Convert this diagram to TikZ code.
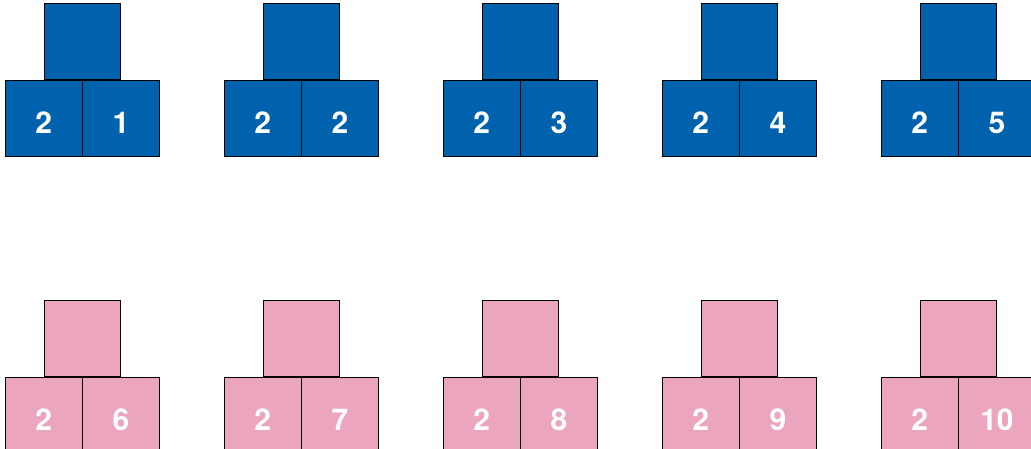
\documentclass[tikz,border=0pt]{standalone}
\usepackage{fontspec}
\setmainfont{TeX Gyre Heros}
\usepackage{xcolor}
\usetikzlibrary{positioning}
\definecolor{cubeblue}{HTML}{0062AD}
\definecolor{cubepink}{HTML}{ECA5BF}

\begin{document}
\begin{tikzpicture}[x=1pt,y=-1pt,node distance=0pt,
  cube/.style={draw=black,line width=0.8pt,minimum size=76.5pt,inner sep=0pt,text=white,text height=30pt,text depth=0pt,font=\fontsize{30}{30}\selectfont\bfseries}]
\useasboundingbox (0,0) rectangle (1031,449);
\clip (0,0) rectangle (1031,449);
% top row
\foreach \i/\k in {0/1,1/2,2/3,3/4,4/5}{
\node[cube,fill=cubeblue,anchor=north west] (blueleft\k) at ({5+219*\i},80) {2};
\node[cube,fill=cubeblue,right=of blueleft\k] (blueright\k) {\k};
\node[cube,fill=cubeblue,above=of blueleft\k.north east] (bluetop\k) {};
}
% bottom row
\foreach \i/\k in {0/6,1/7,2/8,3/9,4/10}{
\node[cube,fill=cubepink,anchor=north west] (pinkleft\k) at ({5+219*\i},377) {2};
\node[cube,fill=cubepink,right=of pinkleft\k] (pinkright\k) {\k};
\node[cube,fill=cubepink,above=of pinkleft\k.north east] (pinktop\k) {};
}
\end{tikzpicture}
\end{document}
